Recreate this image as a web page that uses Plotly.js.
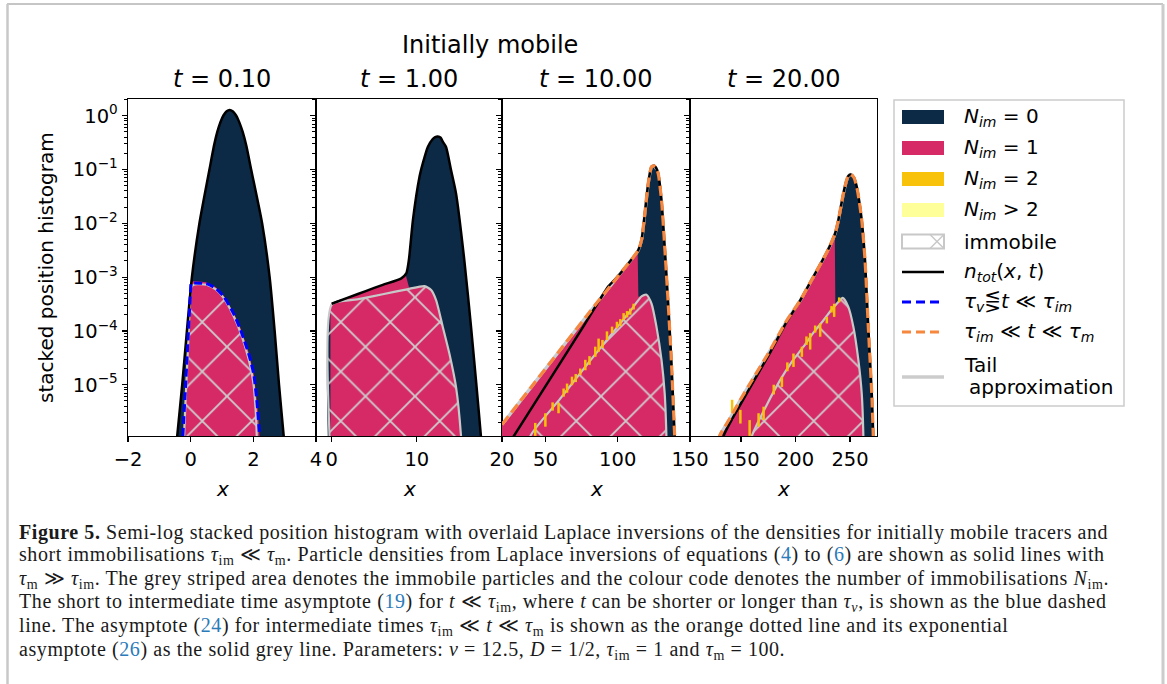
<!DOCTYPE html>
<html><head><meta charset="utf-8">
<script src="https://cdn.plot.ly/plotly-3.0.1.min.js"></script>
<style>html,body{margin:0;padding:0;background:#fff;}#chart{width:1167px;height:684px;}</style>
</head><body><div id="chart"></div>
<script>
// ------------------- DATA -------------------
const panelTimes = ['0.10', '1.00', '10.00', '20.00'];
const yTickVals = [1, 0.1, 0.01, 0.001, 1e-4, 1e-5];
const yTickText = ['10<sup>0</sup>', '10<sup>−1</sup>', '10<sup>−2</sup>', '10<sup>−3</sup>', '10<sup>−4</sup>', '10<sup>−5</sup>'];
const xTickVals = [[-2, 0, 2, 4], [0, 10, 20], [50, 100, 150], [150, 200, 250]];
const xTickText = [['−2', '0', '2', '4'], ['0', '10', '20'], ['50', '100', '150'], ['150', '200', '250']];
const xRanges = [[-2, 4], [-1.84, 20], [20, 150], [103.2, 274.7]];
const yRangeLog = [-5.953, 0.305];

// panel 1, t = 0.10
const p1_tot_x = [-0.5, -0.43, -0.27, -0.12, 0.04, 0.28, 0.6, 0.75, 0.85, 0.95, 1.05, 1.15, 1.24, 1.35, 1.45, 1.55, 1.66, 1.78, 1.93, 2.28, 2.52, 2.68, 2.82, 2.97, 3.05];
const p1_tot_y = [4e-7, 1.1e-6, 1e-5, 1e-4, 1e-3, 1e-2, 0.1, 0.287, 0.5, 0.757, 1.02, 1.21, 1.28, 1.2, 1.01, 0.76, 0.5, 0.27, 0.1, 0.01, 1e-3, 1e-4, 1e-5, 1.1e-6, 4e-7];
const p1_n1_x = [-0.24, -0.16, -0.08, -0.01, 0.1, 0.5, 0.8, 1.05, 1.4, 1.6, 1.85, 2.02, 2.15, 2.2];
const p1_n1_y = [1e-6, 1e-5, 1e-4, 7.5e-4, 8.5e-4, 8e-4, 6.5e-4, 4.5e-4, 2e-4, 1.1e-4, 4e-5, 1.5e-5, 3e-6, 1e-6];
const p1_imm_x = [-0.21, -0.14, -0.06, 0.02, 0.12, 0.5, 0.8, 1.05, 1.35, 1.6, 1.85, 2.0, 2.08, 2.11];
const p1_imm_y = [1e-6, 1e-5, 1e-4, 6.5e-4, 7.3e-4, 7.2e-4, 5.9e-4, 4.1e-4, 2e-4, 9e-5, 3e-5, 1.1e-5, 3e-6, 1e-6];
const p1_blue_x = [-0.25, -0.16, -0.07, 0.0, 0.02, 0.3, 0.55, 0.8, 1.05, 1.37, 1.59, 1.85, 2.01, 2.12, 2.2];
const p1_blue_y = [1.1e-6, 1e-5, 1e-4, 6e-4, 7.6e-4, 7.7e-4, 7.4e-4, 6.2e-4, 4.4e-4, 2.1e-4, 1.05e-4, 3.8e-5, 1.6e-5, 4.5e-6, 1.1e-6];

// panel 2, t = 1.00
const p2_tot_x = [0, 2, 4, 6, 8.18, 8.76, 9.07, 9.54, 10.32, 10.7, 11.29, 11.87, 12.15, 12.46, 12.8, 13.04, 13.43, 14.0, 14.6, 15.57, 16.36, 16.94, 17.52, 17.8];
const p2_tot_y = [3.2e-4, 4.2e-4, 5.5e-4, 7.2e-4, 9.5e-4, 1.17e-3, 2.1e-3, 0.0115, 0.074, 0.13, 0.263, 0.369, 0.40, 0.41, 0.39, 0.33, 0.263, 0.1, 0.036, 2.1e-3, 1.2e-4, 1.23e-5, 1.12e-6, 3e-7];
const p2_n1_x = [-0.15, 0.0, 2, 4, 6, 8.2, 8.7, 9.1, 10.9, 11.7, 12.3, 13.0, 13.8, 14.6, 15.2, 15.35];
const p2_n1_y = [3.0e-4, 3.3e-4, 4.3e-4, 5.6e-4, 7.3e-4, 9.6e-4, 1.1e-3, 6.3e-4, 7.0e-4, 5.9e-4, 3.8e-4, 1.25e-4, 4e-5, 9.5e-6, 1.2e-6, 3e-7];
const p2_imm_x = [-0.15, 0.02, 3, 6, 9, 10.9, 11.68, 12.27, 13.04, 13.82, 14.6, 15.19, 15.35];
const p2_imm_y = [3e-7, 3.1e-4, 3.85e-4, 4.8e-4, 6.0e-4, 6.8e-4, 5.75e-4, 3.7e-4, 1.2e-4, 3.8e-5, 9.1e-6, 1.1e-6, 3e-7];

// panel 3, t = 10.00
const p3_tot_x = [26, 50, 75, 93.7, 100, 114.2, 116.5, 118.8, 121.1, 123.4, 125.2, 126.5, 128, 130.3, 132.5, 134.8, 137.1, 139.4, 140.5];
const p3_tot_y = [9e-7, 9.3e-6, 1.07e-4, 6.8e-4, 1.02e-3, 3.16e-3, 4.9e-3, 0.0155, 0.055, 0.112, 0.117, 0.108, 0.085, 0.027, 3.7e-3, 3.7e-4, 2.9e-5, 1.12e-6, 3.2e-7];
const p3_orange_x = [20, 40, 61.5, 80, 100, 114.2, 116.5, 118.8, 121.1, 123.4, 125.2, 126.5, 128, 130.3, 132.5, 134.8, 137.1, 139.4, 140.5];
const p3_orange_y = [1.82e-6, 8.9e-6, 4.9e-5, 2.14e-4, 1.02e-3, 3.16e-3, 4.9e-3, 0.0155, 0.055, 0.112, 0.117, 0.108, 0.085, 0.027, 3.7e-3, 3.7e-4, 2.9e-5, 1.12e-6, 3.2e-7];
const p3_tail_x = [20, 40, 61.5, 80, 100, 114.2, 116.5, 118.8, 121.1, 123.4, 125.2, 127];
const p3_tail_y = [1.82e-6, 8.9e-6, 4.9e-5, 2.14e-4, 1.02e-3, 3.16e-3, 4.9e-3, 0.0155, 0.055, 0.112, 0.117, 0.1];
const p3_n1_x = [20, 40, 61.5, 80, 100, 113.8, 114.3, 116.5, 119.9, 123.4, 126.8, 130.3, 132.5, 133.7, 134];
const p3_n1_y = [1.75e-6, 8.6e-6, 4.7e-5, 2.05e-4, 9.8e-4, 3.0e-3, 4.3e-4, 4.4e-4, 4.7e-4, 3.2e-4, 1.2e-4, 2.9e-5, 6.9e-6, 1.1e-6, 4e-7];
const p3_imm_x = [38.5, 39.7, 60, 80, 100, 110, 116.5, 119.9, 123.4, 126.8, 130.3, 132.5, 133.7, 134];
const p3_imm_y = [5e-7, 1.12e-6, 5.4e-6, 2.6e-5, 1.2e-4, 2.6e-4, 4.4e-4, 4.7e-4, 3.2e-4, 1.2e-4, 2.9e-5, 6.9e-6, 1.1e-6, 4e-7];
const p3_gold_x = [43, 50, 55, 59.1, 62.6, 65, 68.4, 71, 74.1, 77.6, 80.5, 84.5, 86.8, 89.5, 92.6, 96.1, 99.5, 101.8, 104.1, 106.5, 108.7, 111];
const p3_gold_lo = [1.12e-6, 1.66e-6, 3.3e-6, 2.95e-6, 6.0e-6, 7.1e-6, 9.8e-6, 1.12e-5, 1.51e-5, 1.86e-5, 2.34e-5, 3.3e-5, 4.1e-5, 4.8e-5, 6.8e-5, 9.1e-5, 1.12e-4, 1.23e-4, 1.58e-4, 1.78e-4, 2.0e-4, 2.5e-4];
const p3_gold_hi = [1.95e-6, 2.95e-6, 4.7e-6, 4.6e-6, 8.5e-6, 1.05e-5, 1.41e-5, 1.58e-5, 2.0e-5, 2.9e-5, 3.4e-5, 5.1e-5, 7.2e-5, 6.8e-5, 9.8e-5, 1.2e-4, 1.48e-4, 1.66e-4, 2.14e-4, 2.34e-4, 2.6e-4, 3.2e-4];

// panel 4, t = 20.00
const p4_tot_x = [132.5, 134.1, 150, 176.8, 192.1, 204.3, 216.4, 228.7, 236.3, 239.3, 241.5, 243.9, 246.5, 248.4, 250.6, 253.5, 256.1, 258.5, 260.7, 263.7, 266.7, 269.9, 271.3, 272.5];
const p4_tot_y = [5e-7, 1.12e-6, 4.5e-6, 4e-5, 1.5e-4, 3.7e-4, 1.02e-3, 2.9e-3, 6.5e-3, 0.0115, 0.02, 0.036, 0.06, 0.076, 0.081, 0.071, 0.048, 0.025, 0.0115, 2.1e-3, 1.2e-4, 6.9e-6, 1.12e-6, 3.2e-7];
const p4_orange_x = [128, 130.4, 140, 149.4, 160, 176.8, 192.1, 204.3, 216.4, 228.7, 236.3, 239.3, 241.5, 243.9, 246.5, 248.4, 250.6, 253.5, 256.1, 258.5, 260.7, 263.7, 266.7, 269.9, 271.3, 272.5];
const p4_orange_y = [5e-7, 1.12e-6, 2.4e-6, 5.25e-6, 1.2e-5, 4.4e-5, 1.58e-4, 3.7e-4, 1.02e-3, 2.9e-3, 6.5e-3, 0.0115, 0.02, 0.036, 0.06, 0.076, 0.081, 0.071, 0.048, 0.025, 0.0115, 2.1e-3, 1.2e-4, 6.9e-6, 1.12e-6, 3.2e-7];
const p4_tail_x = [128, 130.4, 140, 149.4, 160, 176.8, 192.1, 204.3, 216.4, 228.7, 236.3, 239.3, 241.5, 243.9, 246.5, 248.4, 250.6, 252.5];
const p4_tail_y = [5e-7, 1.12e-6, 2.4e-6, 5.25e-6, 1.2e-5, 4.4e-5, 1.58e-4, 3.7e-4, 1.02e-3, 2.9e-3, 6.5e-3, 0.0115, 0.02, 0.036, 0.06, 0.076, 0.081, 0.076];
const p4_n1_x = [130.4, 140, 149.4, 160, 176.8, 192.1, 204.3, 216.4, 228.7, 236, 236.5, 237.8, 243.3, 248.4, 253, 257.6, 260.7, 262.2, 262.5];
const p4_n1_y = [1.07e-6, 2.3e-6, 5.0e-6, 1.15e-5, 4.2e-5, 1.5e-4, 3.5e-4, 9.8e-4, 2.75e-3, 6.0e-3, 3.2e-4, 3.2e-4, 4.1e-4, 2.8e-4, 1.2e-4, 2.9e-5, 6.9e-6, 1.12e-6, 3e-7];
const p4_imm_x = [158, 160, 173, 186, 196.7, 207.3, 216.4, 225.6, 231.7, 237.8, 243.3, 248.4, 253, 257.6, 260.7, 262.2, 262.5];
const p4_imm_y = [5e-7, 1.12e-6, 4e-6, 1.23e-5, 2.7e-5, 5.1e-5, 9.3e-5, 1.58e-4, 2.3e-4, 3.2e-4, 4.1e-4, 2.8e-4, 1.2e-4, 2.9e-5, 6.9e-6, 1.12e-6, 3e-7];
const p4_gold_x = [141.8, 149.4, 157.9, 166.1, 170.7, 180, 187.5, 192.5, 198.1, 205.8, 210, 213.4, 218, 222.6, 228.7, 233, 235.4, 240];
const p4_gold_lo = [2.2e-6, 1.9e-6, 1.12e-6, 1.66e-6, 2.2e-6, 6.6e-6, 9.1e-6, 1.78e-5, 2.14e-5, 3.3e-5, 5.5e-5, 4.5e-5, 9.3e-5, 7.8e-5, 1.38e-4, 2.2e-4, 1.82e-4, 3.4e-4];
const p4_gold_hi = [5.25e-6, 3.4e-6, 2.2e-6, 2.95e-6, 3.9e-6, 1.0e-5, 1.41e-5, 2.6e-5, 3.8e-5, 5.1e-5, 7.9e-5, 9.1e-5, 1.26e-4, 1.38e-4, 1.82e-4, 2.9e-4, 3.2e-4, 4.2e-4];

const legendLabels = [
  '<i>N</i><sub><i>im</i></sub> = 0', '<i>N</i><sub><i>im</i></sub> = 1', '<i>N</i><sub><i>im</i></sub> = 2', '<i>N</i><sub><i>im</i></sub> > 2',
  'immobile', '<i>n</i><sub><i>tot</i></sub>(<i>x</i>, <i>t</i>)',
  '<i>τ</i><sub><i>v</i></sub>⋚<i>t</i> ≪ <i>τ</i><sub><i>im</i></sub>', '<i>τ</i><sub><i>im</i></sub> ≪ <i>t</i> ≪ <i>τ</i><sub><i>m</i></sub>',
  'Tail', 'approximation'
];
const REF = 'color:#2b7bb9';
const captionLines = [
  '<b>Figure 5.</b> Semi-log stacked position histogram with overlaid Laplace inversions of the densities for initially mobile tracers and',
  'short immobilisations <i>τ</i><sub>im</sub> ≪ <i>τ</i><sub>m</sub>. Particle densities from Laplace inversions of equations (<span style="' + REF + '">4</span>) to (<span style="' + REF + '">6</span>) are shown as solid lines with',
  '<i>τ</i><sub>m</sub> ≫ <i>τ</i><sub>im</sub>. The grey striped area denotes the immobile particles and the colour code denotes the number of immobilisations <i>N</i><sub>im</sub>.',
  'The short to intermediate time asymptote (<span style="' + REF + '">19</span>) for <i>t</i> ≪ <i>τ</i><sub>im</sub>, where <i>t</i> can be shorter or longer than <i>τ</i><sub><i>v</i></sub>, is shown as the blue dashed',
  'line. The asymptote (<span style="' + REF + '">24</span>) for intermediate times <i>τ</i><sub>im</sub> ≪ <i>t</i> ≪ <i>τ</i><sub>m</sub> is shown as the orange dotted line and its exponential',
  'asymptote (<span style="' + REF + '">26</span>) as the solid grey line. Parameters: <i>v</i> = 12.5, <i>D</i> = 1/2, <i>τ</i><sub>im</sub> = 1 and <i>τ</i><sub>m</sub> = 100.'
];

// ------------------- STYLE / LAYOUT -------------------
const W = 1167, H = 684;
const PX = x => x / W, PY = y => 1 - y / H;
const C = {navy: '#0c2a46', pink: '#d62a66', gold: '#f8c20a', ltyel: '#ffff99', grey: '#c8c8c8', hatch: '#cdcdcd', black: '#000000', blue: '#0000ff', orange: '#f5873e'};
const BASE = 1e-8;
const FONT = 'DejaVu Sans';
const panelPx = [[128, 316], [316, 502], [502, 690], [690, 877]];
const plotTop = 99.3, plotBot = 436;

// minor tick positions for the log axis (2..9 in every decade)
const minorTicks = [];
for (let e = -7; e <= 0; e++) for (let d = 2; d <= 9; d++) minorTicks.push(d * Math.pow(10, e));

function poly(xs, ys) { return {x: [xs[0], ...xs, xs[xs.length - 1]], y: [BASE, ...ys, BASE]}; }
function segs(xs, lo, hi) { const x = [], y = []; xs.forEach((v, i) => { x.push(v, v, null); y.push(lo[i], hi[i], null); }); return {x, y}; }

const panels = [
  {tot: [p1_tot_x, p1_tot_y], n1: [p1_n1_x, p1_n1_y], imm: [p1_imm_x, p1_imm_y], blue: [p1_blue_x, p1_blue_y]},
  {tot: [p2_tot_x, p2_tot_y], n1: [p2_n1_x, p2_n1_y], imm: [p2_imm_x, p2_imm_y]},
  {tot: [p3_tot_x, p3_tot_y], n1: [p3_n1_x, p3_n1_y], imm: [p3_imm_x, p3_imm_y], gold: [p3_gold_x, p3_gold_lo, p3_gold_hi], tail: [p3_tail_x, p3_tail_y], orange: [p3_orange_x, p3_orange_y]},
  {tot: [p4_tot_x, p4_tot_y], n1: [p4_n1_x, p4_n1_y], imm: [p4_imm_x, p4_imm_y], gold: [p4_gold_x, p4_gold_lo, p4_gold_hi], tail: [p4_tail_x, p4_tail_y], orange: [p4_orange_x, p4_orange_y]}
];

const traces = [];
const spl = {shape: 'spline', smoothing: 0.6};
panels.forEach((p, i) => {
  const xa = 'x' + (i ? i + 1 : ''), ya = 'y' + (i ? i + 1 : '');
  const base = {type: 'scatter', xaxis: xa, yaxis: ya, hoverinfo: 'skip', showlegend: false};
  const nv = poly(p.tot[0], p.tot[1]);
  traces.push(Object.assign({}, base, {x: nv.x, y: nv.y, mode: 'none', fill: 'toself', fillcolor: C.navy, line: Object.assign({width: 0}, spl), name: 'N_im = 0'}));
  const pk = poly(p.n1[0], p.n1[1]);
  traces.push(Object.assign({}, base, {x: pk.x, y: pk.y, mode: 'none', fill: 'toself', fillcolor: C.pink, line: {width: 0}, name: 'N_im = 1'}));
  const im = poly(p.imm[0], p.imm[1]);
  traces.push(Object.assign({}, base, {x: im.x, y: im.y, mode: 'lines', fill: 'toself', fillcolor: 'rgba(0,0,0,0)',
    fillpattern: {shape: 'x', fgcolor: C.hatch, bgcolor: 'rgba(0,0,0,0)', size: 35, solidity: 0.1},
    line: Object.assign({color: C.grey, width: 2.2}, spl), name: 'immobile'}));
  if (p.gold) {
    const g = segs(p.gold[0], p.gold[1], p.gold[2]);
    traces.push(Object.assign({}, base, {x: g.x, y: g.y, mode: 'lines', line: {color: C.gold, width: 2.5}, connectgaps: false, name: 'N_im = 2'}));
  }
  if (p.tail) traces.push(Object.assign({}, base, {x: p.tail[0], y: p.tail[1], mode: 'lines', line: Object.assign({color: '#cccccc', width: 3.2}, spl), name: 'Tail approximation'}));
  traces.push(Object.assign({}, base, {x: p.tot[0], y: p.tot[1], mode: 'lines', line: Object.assign({color: C.black, width: 2.5}, spl), name: 'n_tot(x,t)'}));
  if (p.blue) traces.push(Object.assign({}, base, {x: p.blue[0], y: p.blue[1], mode: 'lines', line: Object.assign({color: C.blue, width: 3, dash: '8px,4px'}, spl), name: 'tau_v <> t << tau_im'}));
  if (p.orange) traces.push(Object.assign({}, base, {x: p.orange[0], y: p.orange[1], mode: 'lines', line: Object.assign({color: C.orange, width: 3.2, dash: '10px,5px'}, spl), name: 'tau_im << t << tau_m'}));
});

const layout = {
  width: W, height: H, margin: {l: 0, r: 0, t: 0, b: 0}, paper_bgcolor: '#fff', plot_bgcolor: '#fff',
  font: {family: FONT, color: '#000', size: 20}, showlegend: false, shapes: [], annotations: []
};
const axCommon = {showline: true, linecolor: '#000', linewidth: 1.3, mirror: true, ticks: 'outside', ticklen: 5, tickwidth: 1.2, tickcolor: '#000',
  showgrid: false, zeroline: false, tickfont: {family: FONT, size: 19.5, color: '#000'}, fixedrange: true};
panelPx.forEach((d, i) => {
  const n = i ? i + 1 : '';
  layout['xaxis' + n] = Object.assign({}, axCommon, {domain: [PX(d[0]), PX(d[1])], anchor: 'y' + n, range: xRanges[i],
    tickmode: 'array', tickvals: xTickVals[i], ticktext: xTickText[i]});
  layout['yaxis' + n] = Object.assign({}, axCommon, {domain: [PY(plotBot), PY(plotTop)], anchor: 'x' + n, type: 'log', range: yRangeLog,
    tickmode: 'array', tickvals: yTickVals, ticktext: yTickText, showticklabels: i === 0,
    minor: {ticks: 'outside', ticklen: 2.8, tickwidth: 1, tickcolor: '#000', tickmode: 'array', tickvals: minorTicks, showgrid: false}});
  layout.annotations.push({xref: 'paper', yref: 'paper', x: PX((d[0] + d[1]) / 2), y: PY(79), text: '<i>t</i> = ' + panelTimes[i],
    showarrow: false, xanchor: 'center', yanchor: 'middle', font: {size: 24}});
  layout.annotations.push({xref: 'paper', yref: 'paper', x: PX((d[0] + d[1]) / 2), y: PY(489), text: '<i>x</i>',
    showarrow: false, xanchor: 'center', yanchor: 'middle', font: {size: 20}});
});
layout.annotations.push({xref: 'paper', yref: 'paper', x: PX(490), y: PY(45), text: 'Initially mobile', showarrow: false, xanchor: 'center', yanchor: 'middle', font: {size: 24}});
layout.annotations.push({xref: 'paper', yref: 'paper', x: PX(46), y: PY(268), text: 'stacked position histogram', textangle: -90, showarrow: false, xanchor: 'center', yanchor: 'middle', font: {size: 20}});

// legend (drawn by hand to match the reference swatches)
const L = layout.shapes, A = layout.annotations;
L.push({type: 'rect', xref: 'paper', yref: 'paper', x0: PX(894), x1: PX(1124), y0: PY(406), y1: PY(100), line: {color: '#cccccc', width: 1.5}, fillcolor: 'rgba(255,255,255,0.8)'});
const rowY = [117, 148, 179, 210, 241.5, 272, 302, 332, 377];
const sw0 = 902, sw1 = 944;
[C.navy, C.pink, C.gold, C.ltyel].forEach((c, k) => {
  L.push({type: 'rect', xref: 'paper', yref: 'paper', x0: PX(sw0), x1: PX(sw1), y0: PY(rowY[k] + 7), y1: PY(rowY[k] - 7), line: {width: 0}, fillcolor: c});
});
L.push({type: 'rect', xref: 'paper', yref: 'paper', x0: PX(sw0), x1: PX(sw1), y0: PY(rowY[4] + 7), y1: PY(rowY[4] - 7), line: {color: C.grey, width: 2}, fillcolor: '#fff'});
L.push({type: 'line', xref: 'paper', yref: 'paper', x0: PX(930), x1: PX(944), y0: PY(rowY[4] + 7), y1: PY(rowY[4] - 7), line: {color: C.grey, width: 1.5}});
L.push({type: 'line', xref: 'paper', yref: 'paper', x0: PX(930), x1: PX(944), y0: PY(rowY[4] - 7), y1: PY(rowY[4] + 7), line: {color: C.grey, width: 1.5}});
L.push({type: 'line', xref: 'paper', yref: 'paper', x0: PX(sw0), x1: PX(sw1), y0: PY(rowY[5]), y1: PY(rowY[5]), line: {color: '#000', width: 2.5}});
L.push({type: 'line', xref: 'paper', yref: 'paper', x0: PX(sw0), x1: PX(sw1), y0: PY(rowY[6]), y1: PY(rowY[6]), line: {color: C.blue, width: 3, dash: '9px,5px'}});
L.push({type: 'line', xref: 'paper', yref: 'paper', x0: PX(sw0), x1: PX(sw1), y0: PY(rowY[7]), y1: PY(rowY[7]), line: {color: C.orange, width: 3, dash: '9px,5px'}});
L.push({type: 'line', xref: 'paper', yref: 'paper', x0: PX(sw0), x1: PX(sw1), y0: PY(rowY[8]), y1: PY(rowY[8]), line: {color: '#cccccc', width: 3.5}});
const textY = [117, 148, 179, 210, 241.5, 272, 302, 332, 365, 387];
const textX = [962, 962, 962, 962, 962, 962, 962, 962, 962, 967];
legendLabels.forEach((t, k) => {
  A.push({xref: 'paper', yref: 'paper', x: PX(textX[k]), y: PY(textY[k]), text: t, showarrow: false, xanchor: 'left', yanchor: 'middle', font: {size: 20}});
});

// caption (slightly tracked-out serif so the lines keep the reference widths)
const capY = [532, 555.6, 579.2, 602.8, 626.4, 650];
captionLines.forEach((t, k) => {
  A.push({xref: 'paper', yref: 'paper', x: PX(17), y: PY(capY[k]), text: '<span style="letter-spacing:0.58px">' + t + '</span>', showarrow: false, xanchor: 'left', yanchor: 'middle',
    font: {family: 'Liberation Serif', size: 20, color: '#1a1a1a'}});
});

// page frame
L.push({type: 'line', xref: 'paper', yref: 'paper', x0: PX(7), x1: PX(1163), y0: PY(4), y1: PY(4), line: {color: '#8c8c8c', width: 1}});
L.push({type: 'line', xref: 'paper', yref: 'paper', x0: PX(7.5), x1: PX(7.5), y0: PY(4), y1: 0, line: {color: '#c8c8c8', width: 2.5}});
L.push({type: 'line', xref: 'paper', yref: 'paper', x0: PX(1163), x1: PX(1163), y0: PY(4), y1: 0, line: {color: '#cccccc', width: 3}});

Plotly.newPlot('chart', traces, layout, {staticPlot: true, displayModeBar: false});
</script>
</body></html>
